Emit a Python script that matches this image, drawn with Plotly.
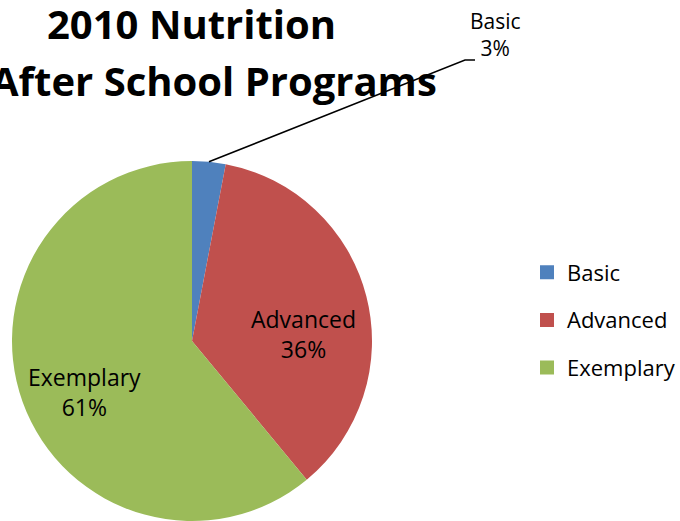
import math
import plotly.graph_objects as go

# Programme ratings, share of programmes (%)
categories = ["Basic", "Advanced", "Exemplary"]
shares = [3, 36, 61]
colors = ["#4F81BD", "#C0504D", "#9BBB59"]
title_lines = ["2010 Nutrition", "After School Programs"]

W, H = 680, 521
FONT = "Open Sans"

# Pie geometry in pixels (centre and radius)
cx, cy, R = 192, 341, 180

# Where each slice label sits (pixels); the small slice is labelled outside
label_pos = {"Basic": (495, 35), "Advanced": (303, 334), "Exemplary": (84, 392)}


def paper(x, y):
    """Convert pixel coordinates (origin top-left) to paper coordinates."""
    return x / W, 1 - y / H


fig = go.Figure()

fig.add_trace(go.Pie(
    labels=categories,
    values=shares,
    sort=False,
    direction="clockwise",
    rotation=0,
    marker=dict(colors=colors, line=dict(width=0)),
    domain=dict(x=[(cx - R) / W, (cx + R) / W],
                y=[1 - (cy + R) / H, 1 - (cy - R) / H]),
    textinfo="none",
    showlegend=False,
    hoverinfo="label+percent",
))

# Legend entries: one square swatch per category
for name, col in zip(categories, colors):
    fig.add_trace(go.Scatter(
        x=[None], y=[None], mode="markers", name=name,
        legendgroup=name,
        marker=dict(symbol="square", size=14, color=col),
        hoverinfo="skip",
    ))

# Slice labels: category name and its share
total = sum(shares)
for name, val in zip(categories, shares):
    lx, ly = paper(*label_pos[name])
    pct = round(100 * val / total)
    fig.add_annotation(x=lx, y=ly, xref="paper", yref="paper",
                       text=f"{name}<br>{pct}%", showarrow=False,
                       align="center", xanchor="center", yanchor="middle",
                       font=dict(family=FONT, size=21 if name == "Basic" else 23,
                                 color="black"))

# Leader line from the small slice's outer edge (at its mid-angle) to its label
mid_angle = math.radians(360 * (shares[0] / 2) / total)
ex, ey = cx + R * math.sin(mid_angle), cy - R * math.cos(mid_angle)
p0, p1, p2 = paper(ex, ey), paper(465, 60), paper(475, 60)
fig.add_shape(type="path", xref="paper", yref="paper",
              path=f"M {p0[0]},{p0[1]} L {p1[0]},{p1[1]} L {p2[0]},{p2[1]}",
              line=dict(color="black", width=1.5))

# Two-line chart title
for text, (tx, ty) in zip(title_lines, [(191, 24), (214, 80)]):
    px, py = paper(tx, ty)
    fig.add_annotation(x=px, y=py, xref="paper", yref="paper", text=f"<b>{text}</b>",
                       showarrow=False, xanchor="center", yanchor="middle",
                       font=dict(family=FONT, size=40, color="black"))

lgx, lgy = paper(527, 320)
fig.update_layout(
    width=W, height=H,
    margin=dict(l=0, r=0, t=0, b=0, autoexpand=False),
    paper_bgcolor="white", plot_bgcolor="white",
    xaxis=dict(visible=False), yaxis=dict(visible=False),
    showlegend=True,
    legend=dict(x=lgx, y=lgy, xanchor="left", yanchor="middle",
                traceorder="grouped", tracegroupgap=16,
                font=dict(family=FONT, size=22, color="black"),
                bgcolor="rgba(0,0,0,0)", itemclick=False),
)

fig.write_html("out.html")
